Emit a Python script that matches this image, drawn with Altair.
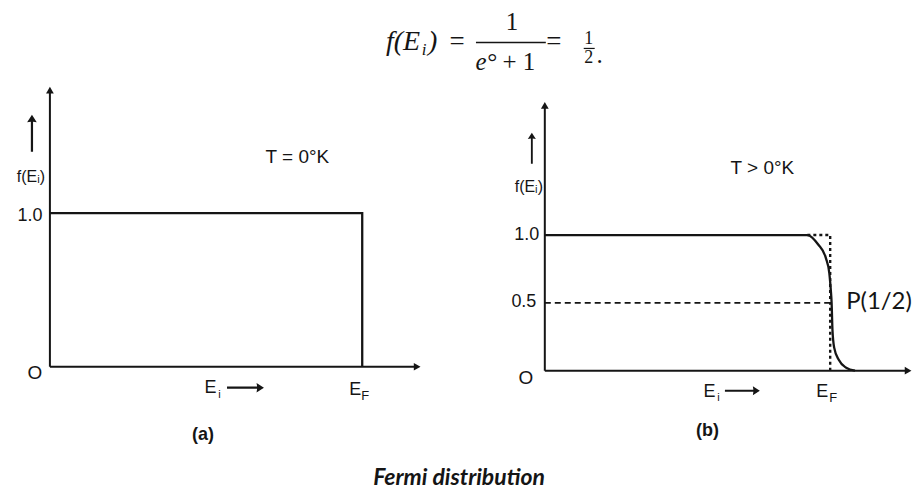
import altair as alt
import pandas as pd

# ---------------- data ----------------
E_F = 1.0                      # Fermi level (x unit)
# panel (a): T = 0 K  -> step function
a_x = [0.0, 1.0, 1.0]
a_y = [1.0, 1.0, 0.0]
a_axis_x_end = 1.176
a_axis_y_end = 1.80
# panel (b): T > 0 K  -> smoothed step
b_x = [0.0, 0.92, 0.958, 0.985, 0.997, 1.002, 1.005, 1.008, 1.014, 1.03, 1.056, 1.087]
b_y = [1.0, 1.0, 0.93, 0.83, 0.72, 0.60, 0.50, 0.30, 0.17, 0.08, 0.022, 0.0]
b_axis_x_end = 1.273
b_axis_y_end = 1.956
half = 0.5
y_ticks_a = [0.0, 1.0]
y_tick_labels_a = ["O", "1.0"]
y_ticks_b = [0.0, 0.5, 1.0]
y_tick_labels_b = ["O", "0.5", "1.0"]
title_a = "T = 0°K"
title_b = "T > 0°K"
caption = "Fermi distribution"

INK = "#151515"
SANS = "Liberation Sans"
SERIF = "Liberation Serif"

UP_ARROW = "M0,-1 L-0.26,-0.6 L-0.06,-0.63 L-0.06,1 L0.06,1 L0.06,-0.63 L0.26,-0.6 Z"
RIGHT_ARROW = "M1,0 L0.6,-0.26 L0.63,-0.06 L-1,-0.06 L-1,0.06 L0.63,0.06 L0.6,0.26 Z"

xs_a = alt.Scale(domain=[-0.1342, 1.3099], nice=False, zero=False)
ys_a = alt.Scale(domain=[-0.474, 1.8636], nice=False, zero=False)
xs_b = alt.Scale(domain=[-0.3007, 1.2797], nice=False, zero=False)
ys_b = alt.Scale(domain=[-0.5074, 2.1397], nice=False, zero=False)


def X(field, sc):
    return alt.X(field, type="quantitative", scale=sc, axis=None)


def Y(field, sc):
    return alt.Y(field, type="quantitative", scale=sc, axis=None)


def anchor_df(xv, yv):
    return pd.DataFrame({"x": [xv], "y": [yv]})


def label(xv, yv, text, xs, ys, dx, dy, size, font=SANS, **kw):
    return alt.Chart(anchor_df(xv, yv)).mark_text(
        text=text, dx=dx, dy=dy, fontSize=size, font=font,
        color=INK, baseline="middle", **kw).encode(x=X("x", xs), y=Y("y", ys))


def arrow(xv, yv, shape, length, xs, ys, xo, yo):
    return alt.Chart(anchor_df(xv, yv)).mark_point(
        shape=shape, filled=True, size=length * length, color=INK, opacity=1,
        strokeWidth=0, xOffset=xo, yOffset=yo).encode(x=X("x", xs), y=Y("y", ys))


def axes(x_end, y_end, xs, ys):
    seg = pd.DataFrame({"x": [0.0, 0.0], "y": [0.0, 0.0], "x2": [x_end, 0.0], "y2": [0.0, y_end]})
    rules = alt.Chart(seg).mark_rule(color=INK, strokeWidth=2).encode(
        x=X("x", xs), y=Y("y", ys), x2="x2", y2="y2")
    up = alt.Chart(anchor_df(0.0, y_end)).mark_point(
        shape="triangle-up", filled=True, size=60, color=INK, opacity=1).encode(x=X("x", xs), y=Y("y", ys))
    right = alt.Chart(anchor_df(x_end, 0.0)).mark_point(
        shape="triangle-right", filled=True, size=60, color=INK, opacity=1).encode(x=X("x", xs), y=Y("y", ys))
    return [rules, up, right]


def tick_labels(ticks, labels, xs, ys, offsets):
    out = []
    for t, l, (dx, dy) in zip(ticks, labels, offsets):
        out.append(label(0.0, t, l, xs, ys, dx, dy, 19 if l == "O" else 18))
    return out


# ---------------- panel (a) ----------------
dfa = pd.DataFrame({"x": a_x, "y": a_y, "i": list(range(len(a_x)))})
curve_a = alt.Chart(dfa).mark_line(color=INK, strokeWidth=2.3).encode(
    x=X("x", xs_a), y=Y("y", ys_a), order="i:Q")

layers_a = [curve_a] + axes(a_axis_x_end, a_axis_y_end, xs_a, ys_a)
layers_a += tick_labels(y_ticks_a, y_tick_labels_a, xs_a, ys_a, [(-15, 6), (-20, 3)])
layers_a += [
    label(0.0, 1.0, "f(Eᵢ)", xs_a, ys_a, -19, -36, 16),
    arrow(0.0, 1.0, UP_ARROW, 37, xs_a, ys_a, -18, -80),
    label(E_F, 1.0, title_a, xs_a, ys_a, -65, -56, 19),
    label(E_F, 0.0, "E", xs_a, ys_a, -152, 21, 18),
    label(E_F, 0.0, "i", xs_a, ys_a, -143, 28, 11),
    arrow(E_F, 0.0, RIGHT_ARROW, 37, xs_a, ys_a, -117, 21),
    label(E_F, 0.0, "E", xs_a, ys_a, -7, 23, 18),
    label(E_F, 0.0, "F", xs_a, ys_a, 3, 29, 13),
    label(E_F / 2, 0.0, "(a)", xs_a, ys_a, -3, 68, 18, fontWeight="bold"),
]
panel_a = alt.layer(*layers_a).properties(width=452, height=360)

# ---------------- panel (b) ----------------
dfb = pd.DataFrame({"x": b_x, "y": b_y})
curve_b = alt.Chart(dfb).mark_line(color=INK, strokeWidth=2.3, interpolate="monotone").encode(
    x=X("x", xs_b), y=Y("y", ys_b))

guides = pd.DataFrame({
    "x": [b_x[1], E_F, 0.0],
    "y": [1.0, 0.0, half],
    "x2": [E_F, E_F, E_F],
    "y2": [1.0, 1.0, half],
    "kind": ["dot", "dot", "dash"],
})
dotted = alt.Chart(guides[guides.kind == "dot"]).mark_rule(
    color=INK, strokeWidth=2.4, strokeDash=[3, 3]).encode(
    x=X("x", xs_b), y=Y("y", ys_b), x2="x2", y2="y2")
dashed = alt.Chart(guides[guides.kind == "dash"]).mark_rule(
    color=INK, strokeWidth=1.8, strokeDash=[6, 4]).encode(
    x=X("x", xs_b), y=Y("y", ys_b), x2="x2", y2="y2")

layers_b = [dashed, dotted, curve_b] + axes(b_axis_x_end, b_axis_y_end, xs_b, ys_b)
layers_b += tick_labels(y_ticks_b, y_tick_labels_b, xs_b, ys_b, [(-19, 7), (-21, -1), (-18, 0)])
layers_b += [
    label(0.0, 1.0, "f(Eᵢ)", xs_b, ys_b, -16, -48, 16),
    arrow(0.0, 1.0, UP_ARROW, 31, xs_b, ys_b, -13, -87),
    label(E_F, 1.0, title_b, xs_b, ys_b, -68, -67, 19),
    label(E_F, 0.0, "E", xs_b, ys_b, -121, 21, 18),
    label(E_F, 0.0, "i", xs_b, ys_b, -112, 27, 11),
    arrow(E_F, 0.0, RIGHT_ARROW, 35, xs_b, ys_b, -88, 20),
    label(E_F, 0.0, "E", xs_b, ys_b, -8, 21, 18),
    label(E_F, 0.0, "F", xs_b, ys_b, 3, 27, 13),
    label(E_F, 0.0, "(b)", xs_b, ys_b, -123, 60, 18, fontWeight="bold"),
    label(E_F, half, "P(1/2)", xs_b, ys_b, 16, -1, 24, font="Lato", align="left"),
]
panel_b = alt.layer(*layers_b).properties(width=452, height=360)

# ---------------- formula row ----------------
one = pd.DataFrame({"t": [0]})


def ftext(text, x, y, size, italic=False, **kw):
    props = dict(text=text, fontSize=size, font=SERIF, color=INK, baseline="middle", align="center")
    if italic:
        props["fontStyle"] = "italic"
    props.update(kw)
    return alt.Chart(one).mark_text(**props).encode(x=alt.value(x), y=alt.value(y))


def fbar(x1, x2, y, w):
    return alt.Chart(one).mark_rule(color=INK, strokeWidth=w).encode(
        x=alt.value(x1), x2=alt.value(x2), y=alt.value(y))


formula = alt.layer(
    ftext("f(E", 413, 34, 28, italic=True, align="right"),
    ftext("i", 417, 42, 17, italic=True),
    ftext(")", 421, 34, 28, italic=True, align="left"),
    ftext("=", 450, 34, 27),
    ftext("1", 505, 14, 25),
    fbar(469, 539, 34, 1.6),
    ftext("e°", 479, 54, 25, italic=True),
    ftext("+ 1", 512, 54, 25),
    ftext("=", 547, 34, 27),
    ftext("1", 582, 31, 18),
    fbar(577, 588, 40, 1.2),
    ftext("2", 582, 50, 18),
    ftext(".", 593, 47, 25),
).properties(width=904, height=72)

cap = alt.Chart(one).mark_text(
    text=caption, font="Lato", fontSize=23, fontStyle="italic", fontWeight="bold",
    color=INK, baseline="alphabetic", align="center").encode(
    x=alt.value(452), y=alt.value(41)).properties(width=904, height=42)

row = alt.hconcat(panel_a, panel_b, spacing=0, bounds="flush")
chart = alt.vconcat(formula, row, cap, spacing=0).properties(
    padding=0).configure_view(stroke=None)

chart.save("out.html", embed_options={"renderer": "svg", "actions": False})
